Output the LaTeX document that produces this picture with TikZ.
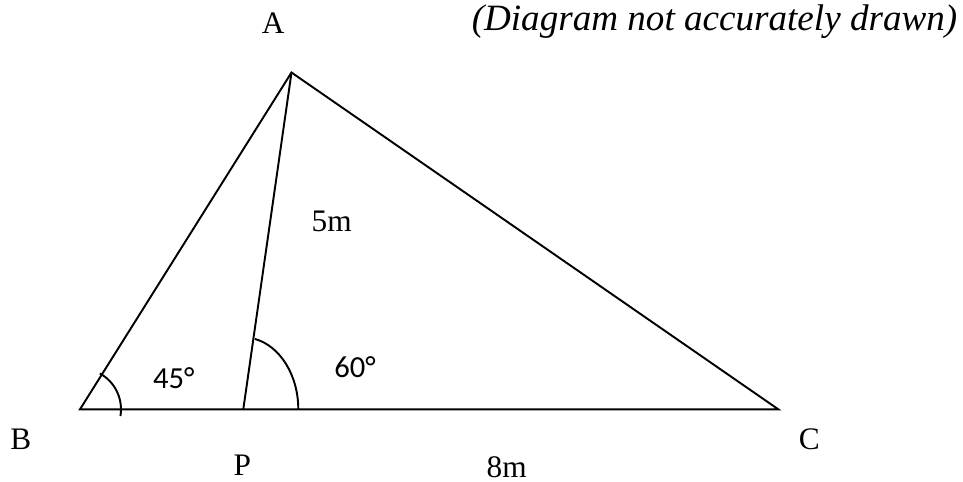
\documentclass[tikz,border=0pt]{standalone}
\usepackage{fontspec}
\setmainfont{Liberation Serif}
\newfontfamily\anglefont{Carlito}
\usepackage{tikz}
\usetikzlibrary{calc,positioning}
\tikzset{
    edge/.style={line width=0.8pt, line join=miter},
    anglearc/.style={line width=0.8pt},
    vlabel/.style={font=\fontsize{13}{15}\selectfont, inner sep=0pt},
    alabel/.style={font=\anglefont\fontsize{12.7}{14}\selectfont, inner sep=0pt}
}

\begin{document}
\begin{tikzpicture}[x=0.415pt, y=-0.415pt]
    \useasboundingbox (0, 0) rectangle (963, 481);

    % Vertices of the triangle
    \coordinate (A) at (291.5, 72.5);
    \coordinate (B) at (80, 409.3);
    \coordinate (P) at (243.3, 409.3);
    \coordinate (C) at (778.3, 409.3);

    % Triangle and the line AP
    \draw[edge] (B) -- (A) -- (C) -- cycle;
    \draw[edge] (A) -- (P);

    % Angle marks
    \draw[anglearc] (B) ++(-61:41) arc[start angle=-61, end angle=9.5, radius=41];
    \draw[anglearc] (P) ++(-77.8:55 and 72) arc[start angle=-77.8, end angle=0, x radius=55, y radius=72];

    % Vertex labels
    \node[vlabel] (lblA) at (273.3, 23.3) {A};
    \node[vlabel] (lblB) at (20.7, 439.3) {B};
    \node[vlabel] (lblP) at (242.3, 465) {P};
    \node[vlabel] (lblC) at (809.3, 439.3) {C};

    % Lengths
    \node[vlabel] (len5) at (331.7, 221.7) {5m};
    \node[vlabel] (len8) at (506.7, 467.3) {8m};

    % Angles
    \node[alabel] (ang45) at (173.7, 377.7) {45°};
    \node[alabel] (ang60) at (355, 366.7) {60°};

    % Note
    \node[font=\itshape\fontsize{15.4}{17}\selectfont, inner sep=0pt] (note) at (714.5, 22) {(Diagram not accurately drawn)};
\end{tikzpicture}
\end{document}
